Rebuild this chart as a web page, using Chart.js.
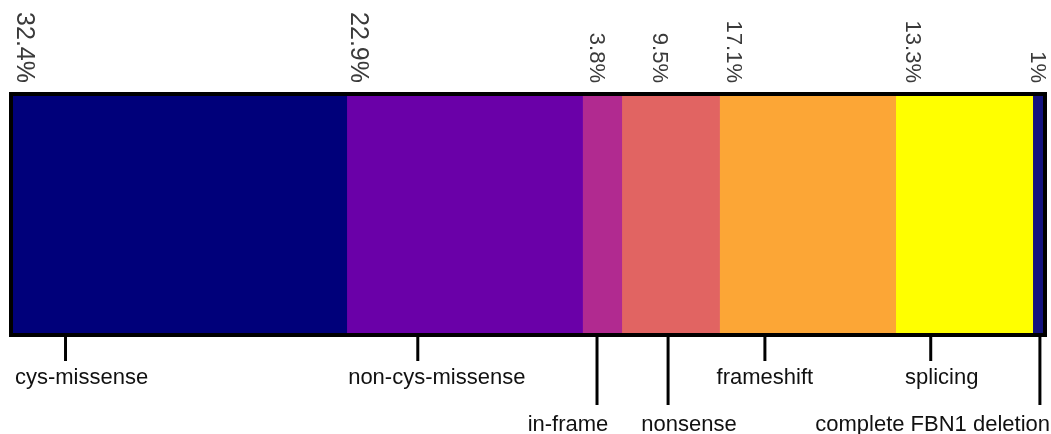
<!DOCTYPE html>
<html>
<head>
<meta charset="utf-8">
<script src="https://cdn.jsdelivr.net/npm/chart.js@4"></script>
<style>
  body { margin: 0; background: #fff; }
  canvas { display: block; }
</style>
</head>
<body>
<canvas id="fbnChart" width="1051" height="434"></canvas>
<script>
// Mutation classes, left to right
const categories = ['cys-missense', 'non-cys-missense', 'in-frame', 'nonsense', 'frameshift', 'splicing', 'complete FBN1 deletion'];
const percentages = [32.4, 22.9, 3.8, 9.5, 17.1, 13.3, 1.0];
const percentLabels = ['32.4%', '22.9%', '3.8%', '9.5%', '17.1%', '13.3%', '1%'];
const segmentColors = ['#00007a', '#6a00a8', '#b12a90', '#e16462', '#fca636', '#ffff00', '#14127f'];

// label layout (row 1 = short leader line, row 2 = long one)
const labelRow = [1, 1, 2, 2, 1, 1, 2];
const leaderAt = [5.1, 39.3, 56.7, 63.6, 73.0, 89.1, 99.7]; // axis units
const labelShift = [16, 19, -29, 21, 0, 11, 0];
const pctNudge = [-2, -2, 0, 24, 0, 3, -9];

const annotate = {
    id: 'annotate',
    afterDatasetsDraw(chart) {
        const ctx = chart.ctx;
        const area = chart.chartArea;
        const xs = chart.scales.x;

        // frame round the bar
        ctx.save();
        ctx.strokeStyle = '#000';
        ctx.lineWidth = 4;
        ctx.strokeRect(area.left - 2, area.top - 2, area.right - area.left + 4, area.bottom - area.top + 4);

        // rotated percentages above each segment
        let start = 0;
        ctx.fillStyle = '#3a3a3a';
        percentages.forEach((p, i) => {
            let x = xs.getPixelForValue(start) + 13 + pctNudge[i];
            x = Math.min(x, chart.width - 10);
            ctx.save();
            ctx.font = (i < 2 ? '25px' : '22px') + ' "Liberation Sans", Arial, sans-serif';
            ctx.translate(x, area.top - 13);
            ctx.rotate(Math.PI / 2);
            ctx.textAlign = 'right';
            ctx.textBaseline = 'middle';
            ctx.fillText(percentLabels[i], 0, 0);
            ctx.restore();
            start += p;
        });

        // leader lines and names below
        ctx.font = '22px "Liberation Sans", Arial, sans-serif';
        ctx.fillStyle = '#111';
        ctx.lineWidth = 3;
        categories.forEach((name, i) => {
            const x = xs.getPixelForValue(leaderAt[i]);
            const lineEnd = labelRow[i] === 1 ? area.bottom + 28 : area.bottom + 72;
            const baseY = labelRow[i] === 1 ? area.bottom + 51 : area.bottom + 98;
            ctx.beginPath();
            ctx.moveTo(x, area.bottom + 2);
            ctx.lineTo(x, lineEnd);
            ctx.stroke();

            const w = ctx.measureText(name).width;
            let tx = x + labelShift[i] - w / 2;
            tx = Math.max(2, Math.min(tx, chart.width - w - 1));
            ctx.textAlign = 'left';
            ctx.textBaseline = 'alphabetic';
            ctx.fillText(name, tx, baseY);
        });
        ctx.restore();
    }
};

const datasets = categories.map((name, i) => ({
    label: name,
    data: [percentages[i]],
    backgroundColor: segmentColors[i],
    borderWidth: 0,
    barPercentage: 1,
    categoryPercentage: 1
}));

new Chart(document.getElementById('fbnChart').getContext('2d'), {
    type: 'bar',
    data: {
        labels: ['FBN1'],
        datasets: datasets
    },
    options: {
        indexAxis: 'y',
        responsive: false,
        animation: false,
        layout: {
            padding: { left: 13, right: 8, top: 96, bottom: 101 }
        },
        scales: {
            x: { stacked: true, min: 0, max: 100, display: false },
            y: { stacked: true, display: false }
        },
        plugins: {
            legend: { display: false },
            tooltip: { enabled: false }
        }
    },
    plugins: [annotate]
});
</script>
</body>
</html>
